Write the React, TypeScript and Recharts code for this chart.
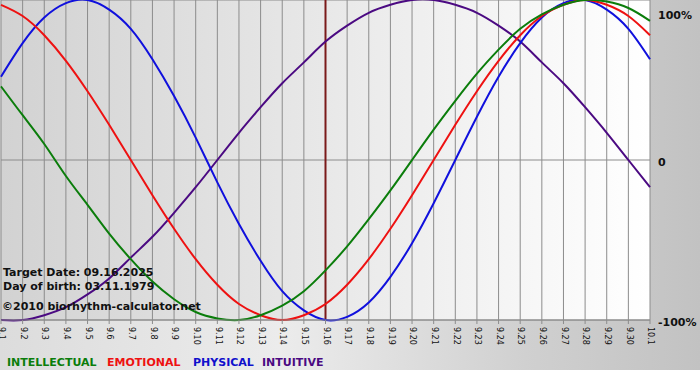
import { CartesianGrid, Line, LineChart, ReferenceLine, XAxis, YAxis } from "recharts";

// 9.1 .. 10.1, one slot per day
const days = [
  "9.1", "9.2", "9.3", "9.4", "9.5", "9.6", "9.7", "9.8", "9.9", "9.10",
  "9.11", "9.12", "9.13", "9.14", "9.15", "9.16", "9.17", "9.18", "9.19", "9.20",
  "9.21", "9.22", "9.23", "9.24", "9.25", "9.26", "9.27", "9.28", "9.29", "9.30",
  "10.1",
];

// values in percent
const physical = [
  52, 73, 89, 98, 100, 94, 82, 63, 40, 14, -14, -40, -63, -82, -94, -100,
  -98, -89, -73, -52, -27, 0, 27, 52, 73, 89, 98, 100, 94, 82, 63,
];
const emotional = [
  97, 90, 78, 62, 43, 22, 0, -22, -43, -62, -78, -90, -97, -100, -97, -90,
  -78, -62, -43, -22, 0, 22, 43, 62, 78, 90, 97, 100, 97, 90, 78,
];
const intellectual = [
  46, 28, 10, -10, -28, -46, -62, -76, -87, -95, -99, -100, -97, -91, -82, -69,
  -54, -37, -19, 0, 19, 37, 54, 69, 82, 91, 97, 100, 99, 95, 87,
];
const intuitive = [
  -100, -100, -97, -92, -84, -74, -61, -48, -33, -17, 0, 17, 33, 48, 61, 74,
  84, 92, 97, 100, 100, 97, 92, 84, 74, 61, 48, 33, 17, 0, -17,
];

const targetIndex = 15; // 9.16
const yTicks = [-100, 0, 100];
const yLabels: Record<number, string> = { 100: "100%", 0: "0", [-100]: "-100%" };

const legend = [
  { name: "INTELLECTUAL", color: "#0b7d0b", x: 7 },
  { name: "EMOTIONAL", color: "#ee1111", x: 107 },
  { name: "PHYSICAL", color: "#1010cc", x: 193 },
  { name: "INTUITIVE", color: "#4b0a82", x: 262 },
];

const FONT = "DejaVu Sans, Verdana, sans-serif";

const data = days.map((d, i) => ({
  i,
  day: d,
  physical: physical[i],
  emotional: emotional[i],
  intellectual: intellectual[i],
  intuitive: intuitive[i],
}));

const DayTick = ({ x, y, payload }: any) => (
  <text
    x={x + 1}
    y={y + 1}
    transform={`rotate(90 ${x + 1} ${y + 1})`}
    dy="0.35em"
    fontSize={8}
    fontFamily={FONT}
    fill="#111"
    textAnchor="start"
  >
    {days[payload.value]}
  </text>
);

const PctTick = ({ y, payload }: any) => {
  const v = payload.value;
  const shift = v === 100 ? 6 : 2;
  return (
    <text
      x={658}
      y={y + shift}
      dy="0.36em"
      fontSize={11}
      fontWeight="bold"
      fontFamily={FONT}
      fill="#111"
    >
      {yLabels[v]}
    </text>
  );
};

export default function App() {
  return (
    <div
      style={{
        position: "absolute",
        left: 0,
        top: 0,
        width: 700,
        height: 380,
        background: "#fff",
      }}
    >
      <div
        style={{
          position: "absolute",
          left: 0,
          top: 0,
          width: 700,
          height: 370,
          background:
            "linear-gradient(to right, #dcdcdc 0%, #ececec 40%, #d0d0d0 75%, #c2c2c2 100%)",
        }}
      />
      <div
        style={{
          position: "absolute",
          left: 1,
          top: 0,
          width: 649,
          height: 320,
          background: "linear-gradient(to right, #d2d2d2 0%, #e6e6e6 45%, #ffffff 100%)",
        }}
      />
      <div style={{ position: "absolute", left: 0, top: 0 }}>
        <LineChart
          width={700}
          height={370}
          data={data}
          margin={{ top: 0, right: 0, bottom: 0, left: 1 }}
        >
          <CartesianGrid stroke="#8c8c8c" strokeWidth={1} />
          <XAxis
            dataKey="i"
            type="number"
            domain={[0, days.length - 1]}
            ticks={days.map((_, i) => i)}
            interval={0}
            height={50}
            tick={<DayTick />}
            tickSize={4}
            tickLine={{ stroke: "#8c8c8c" }}
            axisLine={{ stroke: "#8c8c8c" }}
          />
          <YAxis
            orientation="right"
            domain={[-100, 100]}
            ticks={yTicks}
            width={50}
            tick={<PctTick />}
            tickLine={false}
            axisLine={false}
          />
          <ReferenceLine x={targetIndex} stroke="#7a1a1a" strokeWidth={2} />
          <Line
            dataKey="intuitive"
            type="natural"
            stroke="#4b0a82"
            strokeWidth={2}
            dot={false}
            isAnimationActive={false}
          />
          <Line
            dataKey="physical"
            type="natural"
            stroke="#1010dd"
            strokeWidth={2}
            dot={false}
            isAnimationActive={false}
          />
          <Line
            dataKey="emotional"
            type="natural"
            stroke="#ee1111"
            strokeWidth={2}
            dot={false}
            isAnimationActive={false}
          />
          <Line
            dataKey="intellectual"
            type="natural"
            stroke="#0b7d0b"
            strokeWidth={2}
            dot={false}
            isAnimationActive={false}
          />
        </LineChart>
      </div>
      <svg
        width={700}
        height={380}
        style={{ position: "absolute", left: 0, top: 0, pointerEvents: "none" }}
      >
        <g fontFamily={FONT} fontSize={11} fontWeight="bold" fill="#111">
          <text x={3} y={276}>Target Date: 09.16.2025</text>
          <text x={3} y={290}>Day of birth: 03.11.1979</text>
          <text x={2} y={310}>©2010 biorhythm-calculator.net</text>
        </g>
        <g fontFamily={FONT} fontSize={11} fontWeight="bold">
          {legend.map((l) => (
            <text key={l.name} x={l.x} y={366} fill={l.color}>
              {l.name}
            </text>
          ))}
        </g>
      </svg>
    </div>
  );
}
